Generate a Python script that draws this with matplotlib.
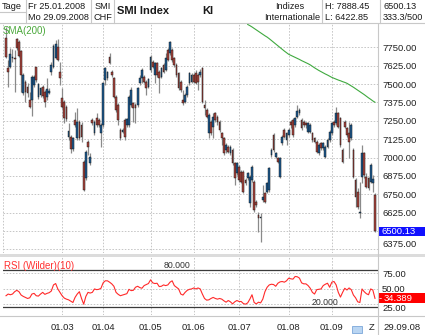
import numpy as np
import pandas as pd
import matplotlib
matplotlib.use("Agg")
import matplotlib.pyplot as plt
import matplotlib.transforms as mtransforms
from matplotlib.patches import Rectangle
from matplotlib.lines import Line2D
from matplotlib.ticker import FuncFormatter

plt.rcParams['font.family'] = ['Liberation Sans', 'DejaVu Sans']

# SIX trading days 25.01.2008 - 29.09.2008
holidays = ["2008-03-21", "2008-03-24", "2008-05-01", "2008-05-12", "2008-08-01"]
dates = pd.bdate_range("2008-01-25", "2008-09-29")
dates = dates[~dates.isin(pd.to_datetime(holidays))]

opens = [
    7811, 7612, 7618, 7675, 7680,
    7807, 7789, 7725, 7437, 7516, 7482, 7392, 7392, 7494, 7614, 7414, 7426, 7482, 7448, 7414, 7441, 7584, 7618, 7675, 7755, 7584,
    7403, 7380, 7346, 7142, 7142, 7058, 7255, 7131, 7244, 7221, 6972, 6858, 7108, 6961, 7255, 7165, 7267, 7255, 7165,
    7221, 7528, 7539, 7686, 7584, 7539, 7414, 7358, 7187, 7176, 7255, 7221, 7221, 7358, 7369, 7358, 7358, 7505, 7539, 7550, 7516, 7482,
    7596, 7652, 7562, 7641, 7584, 7550, 7630, 7596, 7732, 7709, 7732, 7675, 7630, 7573, 7516, 7392, 7380, 7426, 7505, 7516,
    7562, 7573, 7562, 7562, 7612, 7358, 7324, 7165, 7244, 7210, 7301, 7278, 7244, 7165, 7131, 7051, 7074, 7029, 7051, 6961, 6892,
    6938, 6904, 6904, 6847, 6858, 6688, 6847, 6836, 6700, 6609, 6586, 6711, 6756, 6768, 6779, 7017, 7153, 7006, 6995, 6870, 7097, 7187, 7119,
    7153, 7244, 7255, 7221, 7278, 7301, 7255, 7244, 7233, 7176, 7176, 7165, 7131, 7108, 7029, 7097, 7063, 7006, 7074, 7119,
    7165, 7244, 7233, 7301, 7267, 7051, 7244, 7199, 7165, 7131, 7051, 6847, 6768, 6620, 6868, 7029, 6870, 6858, 6836, 6827, 6745,
]
highs = [
    7888.45, 7664, 7748, 7739, 7732,
    7816, 7800, 7732, 7573, 7528, 7505, 7448, 7562, 7562, 7618, 7505, 7482, 7494, 7460, 7539, 7471, 7652, 7770, 7800, 7807, 7652,
    7471, 7392, 7358, 7233, 7153, 7142, 7312, 7335, 7255, 7244, 6983, 7051, 7119, 7029, 7267, 7255, 7301, 7267, 7233,
    7512, 7618, 7589, 7709, 7596, 7550, 7426, 7369, 7199, 7199, 7267, 7267, 7426, 7482, 7380, 7369, 7482, 7562, 7612, 7562, 7528, 7544,
    7698, 7664, 7652, 7648, 7596, 7618, 7641, 7709, 7743, 7793, 7743, 7686, 7641, 7584, 7528, 7460, 7437, 7494, 7584, 7573,
    7573, 7596, 7573, 7603, 7618, 7392, 7335, 7301, 7255, 7301, 7312, 7289, 7255, 7176, 7142, 7097, 7085, 7085, 7063, 6972, 6972,
    6949, 6915, 6915, 6858, 6904, 6881, 6949, 6847, 6711, 6632, 6620, 6813, 6768, 6836, 6938, 7063, 7165, 7040, 7006, 7006, 7153, 7199, 7176,
    7199, 7255, 7267, 7278, 7358, 7335, 7267, 7255, 7244, 7244, 7233, 7176, 7142, 7119, 7097, 7108, 7108, 7085, 7131, 7187,
    7244, 7255, 7346, 7312, 7278, 7063, 7255, 7210, 7244, 7233, 7063, 6858, 6790, 6836, 7085, 7040, 6892, 6870, 6961, 6881, 6756,
]
lows = [
    7675, 7482, 7607, 7652, 7448,
    7732, 7686, 7448, 7426, 7376, 7414, 7339, 7285, 7482, 7516, 7398, 7414, 7407, 7346, 7392, 7430, 7562, 7607, 7671, 7657, 7494,
    7335, 7233, 7249, 7119, 7029, 7044, 7210, 7119, 7119, 7108, 6774, 6847, 7017, 6949, 7221, 7153, 7210, 7210, 7074,
    7210, 7494, 7528, 7634, 7550, 7403, 7312, 7221, 7119, 7165, 7119, 7210, 7210, 7346, 7244, 7233, 7346, 7494, 7505, 7505, 7426, 7471,
    7584, 7607, 7505, 7550, 7437, 7539, 7573, 7589, 7657, 7698, 7652, 7618, 7550, 7460, 7448, 7358, 7369, 7414, 7494, 7505,
    7505, 7498, 7460, 7550, 7369, 7289, 7267, 7131, 7153, 7131, 7244, 7221, 7176, 7085, 7017, 7029, 7029, 7017, 6949, 6813, 6881,
    6836, 6824, 6756, 6813, 6847, 6666, 6836, 6632, 6666, 6496, 6422.85, 6700, 6688, 6756, 6768, 7006, 7040, 6995, 6961, 6858, 7085, 7131, 7085,
    7142, 7199, 7142, 7210, 7267, 7289, 7187, 7210, 7199, 7165, 7165, 7108, 7097, 7028, 7017, 7051, 7051, 6995, 7063, 7108,
    7153, 7210, 7221, 7199, 7074, 6961, 7199, 7142, 6995, 7119, 6858, 6666, 6650, 6591, 6827, 6858, 6790, 6779, 6824, 6768, 6496,
]
closes = [
    7686, 7584, 7702, 7686, 7668,
    7743, 7693, 7562, 7562, 7448, 7437, 7346, 7550, 7550, 7528, 7498, 7471, 7421, 7380, 7466, 7455, 7630, 7761, 7773, 7664, 7539,
    7346, 7271, 7262, 7181, 7058, 7131, 7221, 7244, 7131, 7142, 6779, 7040, 7074, 7006, 7233, 7244, 7221, 7221, 7221,
    7505, 7607, 7584, 7641, 7562, 7414, 7324, 7255, 7131, 7187, 7142, 7260, 7414, 7460, 7335, 7335, 7471, 7539, 7596, 7516, 7471, 7534,
    7686, 7618, 7641, 7562, 7539, 7607, 7584, 7675, 7664, 7789, 7664, 7630, 7562, 7471, 7460, 7369, 7426, 7482, 7573, 7562,
    7516, 7505, 7516, 7584, 7380, 7335, 7278, 7289, 7165, 7278, 7255, 7244, 7187, 7131, 7029, 7085, 7040, 7074, 6961, 6858, 6961,
    6847, 6836, 6768, 6824, 6892, 6870, 6938, 6643, 6677, 6586, 6598, 6734, 6700, 6824, 6926, 7051, 7051, 7029, 6972, 6995, 7142, 7142, 7165,
    7187, 7221, 7153, 7267, 7317, 7324, 7199, 7221, 7221, 7233, 7221, 7119, 7108, 7040, 7085, 7063, 7097, 7074, 7119, 7176,
    7233, 7221, 7301, 7210, 7085, 6972, 7210, 7153, 7108, 7221, 6870, 6734, 6666, 6632, 7031, 6881, 6802, 6790, 6949, 6854, 6500.13,
]

# SMA(200), visible part from 07.07.2008 on
sma200 = [
    7905, 7897, 7888, 7878, 7868, 7858, 7848, 7838, 7828, 7819, 7808, 7796, 7784, 7772, 7760, 7748, 7736, 7724, 7713,
    7702, 7695, 7688, 7681, 7674, 7667, 7659, 7652, 7645, 7638, 7630, 7620, 7610, 7601, 7592, 7584, 7576, 7568, 7561, 7553,
    7545, 7539, 7533, 7527, 7522, 7516, 7511, 7505, 7496, 7487, 7478, 7468, 7458, 7448, 7438, 7428, 7417, 7406, 7396, 7385, 7376,
]

rsi10 = [
    38.6, 41.3, 40.2, 41.3, 45.1,
    47.3, 45.1, 39.7, 37.5, 35.9, 34.2, 35.3, 41.3, 42.4, 38.6, 38.0, 41.3, 44.0, 40.8, 42.4, 43.5, 46.2, 56.0, 58.2, 49.5, 44.0,
    38.6, 34.8, 33.1, 32.0, 29.9, 27.7, 35.9, 41.3, 45.1, 34.2, 25.0, 37.5, 44.0, 42.9, 44.0, 49.5, 48.4, 48.9, 50.6,
    59.3, 62.6, 62.6, 60.4, 57.7, 53.8, 44.0, 40.8, 38.6, 39.7, 40.8, 41.9, 48.9, 46.8, 47.3, 52.2, 53.8, 51.7, 50.6, 54.9, 56.6, 58.2,
    64.2, 59.3, 58.2, 58.7, 53.3, 53.8, 56.0, 54.9, 56.0, 60.4, 62.6, 54.9, 52.2, 49.5, 41.3, 39.7, 44.0, 47.3, 48.9, 49.5,
    51.1, 49.5, 51.1, 49.5, 41.3, 34.2, 31.5, 32.0, 34.2, 35.9, 34.2, 33.1, 34.2, 33.1, 30.4, 28.2, 30.9, 28.8, 25.5, 28.8, 30.9,
    29.3, 29.3, 26.0, 25.0, 27.1, 33.1, 40.2, 27.7, 25.5, 28.2, 27.1, 33.1, 45.1, 52.2, 56.0, 57.1, 56.6, 53.8, 58.7, 60.9, 61.5, 60.4, 62.6,
    66.9, 65.8, 65.3, 69.6, 69.1, 66.9, 59.3, 57.7, 57.7, 54.9, 50.6, 44.0, 41.3, 48.4, 48.9, 49.5, 54.9, 57.1, 58.7, 52.2,
    60.4, 61.5, 56.0, 44.0, 36.4, 44.0, 50.6, 47.8, 51.1, 48.4, 39.7, 35.3, 28.8, 27.7, 49.5, 45.1, 41.9, 40.2, 49.5, 47.8, 34.389,
]

month_labels = ["01.03", "01.04", "01.05", "01.06", "01.07", "01.08", "01.09"]

UP = "#1d5a8e"
DOWN = "#a8443c"
GRID = "#c6c6c6"
LINE = "#c8c8c8"

W, H = 425, 335


def box(l, t, r, b):
    return [l / W, 1 - b / H, (r - l) / W, (b - t) / H]


def fx(x):
    return x / W


def fy(y):
    return 1 - y / H


o = np.array(opens)
h = np.array(highs)
lo = np.array(lows)
c = np.array(closes)
x = np.arange(len(dates))
up = c >= o

month_idx = [int(np.argmax(dates.month == m)) for m in range(3, 10)]

fig = plt.figure(figsize=(4.25, 3.35), dpi=100)
fig.patch.set_facecolor("white")

ax = fig.add_axes(box(3, 24, 378, 253))
ax2 = fig.add_axes(box(3, 257, 378, 315), sharex=ax)

# price panel
ax.vlines(x, lo, h, color="#8a8a8a", lw=0.9, zorder=2)
ax.bar(x, np.abs(c - o), bottom=np.minimum(o, c), width=0.8,
       color=np.where(up, UP, DOWN), edgecolor="#111111", linewidth=0.3, zorder=3)
ax.plot(x[-len(sma200):], sma200, color="#3fa93f", lw=0.8, zorder=4)

ax.set_xlim(-1.4, 172.4)
ax.set_ylim(6351, 7908)
ax.set_yticks(np.arange(6375, 7751, 125))
ax.yaxis.tick_right()
ax.yaxis.set_major_formatter(FuncFormatter(lambda v, p: "" if abs(v - 6500) < 1 else "%.2f" % v))
ax.tick_params(axis="y", length=0, pad=3, labelsize=6.8, labelcolor="#222222")
ax.set_xticks(month_idx)
ax.tick_params(axis="x", length=0, labelbottom=False)
ax.grid(True, color=GRID, ls=(0, (1.6, 1.6)), lw=0.7)
ax.set_axisbelow(True)
for s in ax.spines.values():
    s.set_visible(False)
ax.axvline(-1.4, color=GRID, ls=(0, (1.6, 1.6)), lw=0.7)
ax.yaxis.get_majorticklabels()[0].set_va("bottom")
ax.text(0.0, 0.97, "SMA(200)", transform=ax.transAxes, color="#4aa83a",
        fontsize=7, ha="left", va="center")

# RSI panel
ax2.plot(x, rsi10, color="#ff2a2a", lw=0.8, zorder=4)
ax2.axhline(80, color="#3a3a3a", lw=0.9, zorder=3)
ax2.axhline(20, color="#3a3a3a", lw=0.9, zorder=3)
ax2.set_ylim(7.6, 100.9)
ax2.set_yticks([25, 50, 75])
ax2.yaxis.tick_right()
ax2.yaxis.set_major_formatter(FuncFormatter(lambda v, p: "%.2f" % v))
ax2.tick_params(axis="y", length=0, pad=3, labelsize=6.8, labelcolor="#222222")
ax2.yaxis.get_majorticklabels()[0].set_va("top")
ax2.set_xticks(month_idx)
ax2.set_xticklabels(month_labels)
ax2.tick_params(axis="x", length=0, pad=6, labelsize=6.8, labelcolor="#222222")
ax2.grid(True, color=GRID, ls=(0, (1.6, 1.6)), lw=0.7)
ax2.set_axisbelow(True)
for s in ax2.spines.values():
    s.set_visible(False)
ax2.text(0.003, 0.84, "RSI (Wilder)(10)", transform=ax2.transAxes, color="#ff3030",
         fontsize=7, ha="left", va="center")
ax2.text(0.464, 80.5, "80.000", transform=mtransforms.blended_transform_factory(ax2.transAxes, ax2.transData),
         fontsize=6.3, color="#333333", ha="center", va="bottom")
ax2.text(0.859, 20.5, "20.000", transform=mtransforms.blended_transform_factory(ax2.transAxes, ax2.transData),
         fontsize=6.3, color="#333333", ha="center", va="bottom")

# last value boxes on the right scale
tr1 = mtransforms.blended_transform_factory(fig.transFigure, ax.transData)
ppx1 = (7908 - 6351) / 229.0
fig.add_artist(Rectangle((fx(378), closes[-1] - 4.5 * ppx1), fx(47), 9 * ppx1,
                         transform=tr1, facecolor="#1010ff", edgecolor="none", clip_on=False))
fig.text(fx(382), closes[-1], "%.2f" % closes[-1], transform=tr1, color="white",
         fontsize=6.8, ha="left", va="center")

tr2 = mtransforms.blended_transform_factory(fig.transFigure, ax2.transData)
ppx2 = (100.9 - 7.6) / 58.0
fig.add_artist(Rectangle((fx(378), rsi10[-1] - 5 * ppx2), fx(47), 10 * ppx2,
                         transform=tr2, facecolor="#ff0000", edgecolor="none", clip_on=False))
fig.text(fx(379), rsi10[-1], "-", transform=tr2, color="white", fontsize=6.8, ha="left", va="center")
fig.text(fx(384), rsi10[-1], "%.3f" % rsi10[-1], transform=tr2, color="white",
         fontsize=6.8, ha="left", va="center")

# frame lines
fig.add_artist(Line2D([fx(378), fx(378)], [fy(24), fy(335)], color=LINE, lw=0.8))
fig.add_artist(Rectangle((0, fy(257)), 1, 3.5 / H, transform=fig.transFigure,
                         facecolor="#dcdcdc", edgecolor="none"))
fig.add_artist(Line2D([0, 1], [fy(315.5), fy(315.5)], color=LINE, lw=0.8))

# header
fig.add_artist(Line2D([0, 1], [fy(23), fy(23)], color=LINE, lw=0.8))
for xs in [26, 91, 114, 322, 380]:
    fig.add_artist(Line2D([fx(xs), fx(xs)], [fy(0), fy(23)], color=LINE, lw=0.8))
fig.add_artist(Line2D([0, fx(26)], [fy(12), fy(12)], color=LINE, lw=0.8))

hk = dict(fontsize=6.6, color="#1a1a1a", va="center")
fig.text(fx(2), fy(6.5), "Tage", ha="left", **hk)
fig.text(fx(28), fy(6.5), "Fr 25.01.2008", ha="left", **hk)
fig.text(fx(28), fy(17.5), "Mo 29.09.2008", ha="left", **hk)
fig.text(fx(102.5), fy(6.5), "SMI", ha="center", **hk)
fig.text(fx(102.5), fy(17.5), "CHF", ha="center", **hk)
fig.text(fx(117), fy(11), "SMI Index", ha="left", fontsize=8, fontweight="bold", color="#1a1a1a", va="center")
fig.text(fx(202), fy(11), "KI", ha="left", fontsize=8, fontweight="bold", color="#1a1a1a", va="center")
fig.text(fx(290), fy(6.5), "Indizes", ha="center", **hk)
fig.text(fx(292), fy(17.5), "Internationale", ha="center", **hk)
fig.text(fx(325), fy(6.5), "H: 7888.45", ha="left", **hk)
fig.text(fx(325), fy(17.5), "L: 6422.85", ha="left", **hk)
fig.text(fx(383), fy(6.5), "%.2f" % closes[-1], ha="left", **hk)
fig.text(fx(383), fy(17.5), "333.3/500", ha="left", **hk)

# footer
fig.add_artist(Rectangle((fx(352), fy(333)), fx(10), 7 / H, transform=fig.transFigure,
                         facecolor="#b9d5f2", edgecolor="#7ba7d9", lw=0.6))
fig.text(fx(369), fy(327.5), "Z", ha="left", va="center", fontsize=6.8, color="#222222")
fig.text(fx(383), fy(327.5), dates[-1].strftime("%d.%m.%y"), ha="left", va="center",
         fontsize=6.8, color="#222222")

fig.savefig("out.png", dpi=100)
